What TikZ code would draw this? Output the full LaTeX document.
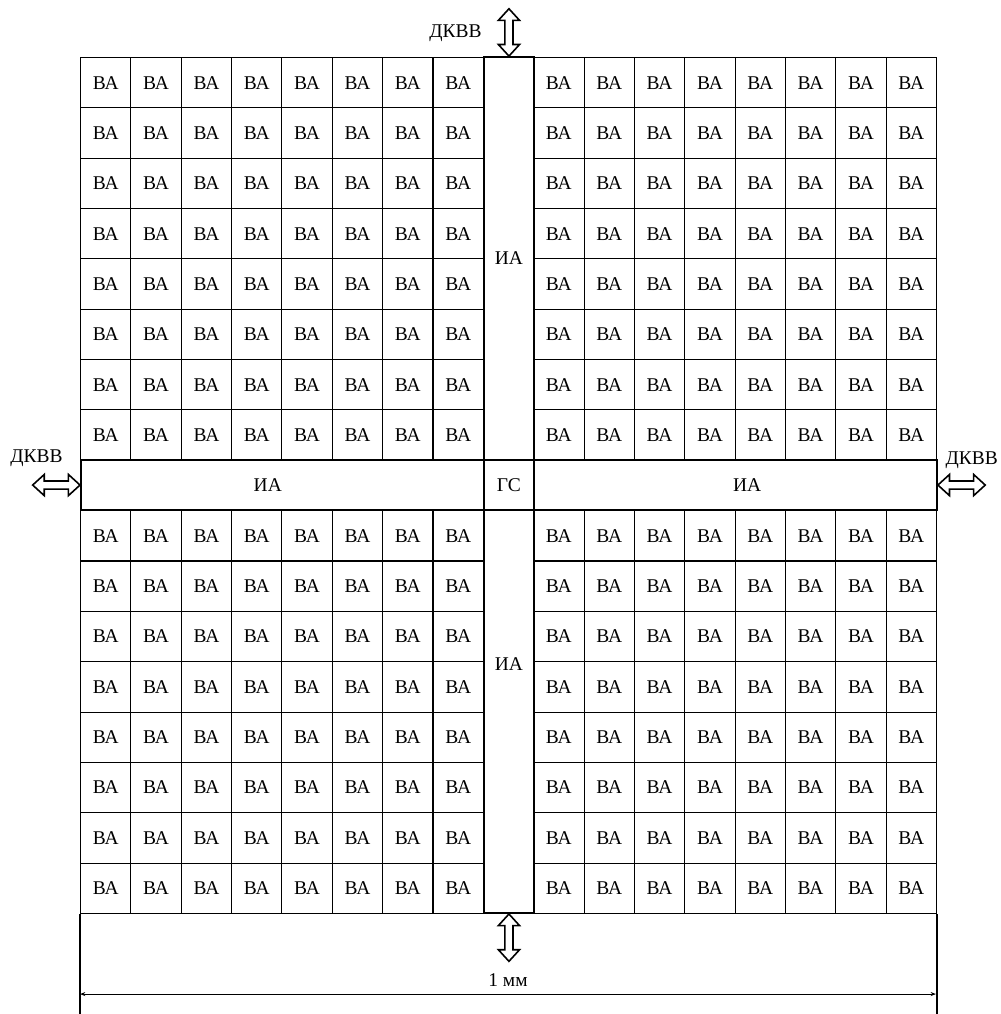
\documentclass[tikz,border=0pt]{standalone}
\usepackage{fontspec}
\setmainfont{Liberation Serif}
\usetikzlibrary{positioning, arrows.meta}

\begin{document}
\begin{tikzpicture}[
  every node/.style={font=\fontsize{11}{13}\selectfont},
  cell/.style={draw, line width=0.6pt, minimum size=1cm, inner sep=0pt, anchor=south west},
  iabox/.style={draw, line width=1.1pt, inner sep=0pt, anchor=south west},
  dkvv/.pic={\draw[line width=0.9pt, fill=white, line join=miter]
    (0,0) -- (0.23,0.21) -- (0.23,0.08) -- (0.71,0.08) -- (0.71,0.21) -- (0.94,0)
    -- (0.71,-0.21) -- (0.71,-0.08) -- (0.23,-0.08) -- (0.23,-0.21) -- cycle;},
  >=Stealth,
]
  \useasboundingbox (-1.589,-1.986) rectangle (18.29,18.153);

  % VA cells, four blocks of 8x8
  \foreach \i in {0,...,7,9,10,...,16} {
    \foreach \j in {0,...,7,9,10,...,16} {
      \node[cell] (c-\i-\j) at (\i,\j) {ВА};
    }
  }

  % IA channels and the central node
  \node[iabox, minimum width=1cm, minimum height=8cm] (iaN) at (8,9) {ИА};
  \node[iabox, minimum width=1cm, minimum height=8cm] (iaS) at (8,0) {};
  \node[iabox, minimum width=8cm, minimum height=1cm] (iaW) at (0,8) {};
  \node[iabox, minimum width=8cm, minimum height=1cm] (iaE) at (9,8) {};
  \node[iabox, minimum size=1cm] (gs) at (8,8) {ГС};
  \node at ([yshift=0.95cm]iaS.center) {ИА};
  \node at ([xshift=-0.29cm]iaW.center) {ИА};
  \node at ([xshift=0.23cm]iaE.center) {ИА};

  % external ports
  \pic[rotate=90] at (iaN.north) {dkvv};
  \pic[rotate=-90] at (iaS.south) {dkvv};
  \pic[rotate=180] at (iaW.west) {dkvv};
  \pic at (iaE.east) {dkvv};
  \node[anchor=east] (dkN) at (8.10,17.50) {ДКВВ};
  \node (dkW) at (-0.864,9.06) {ДКВВ};
  \node (dkE) at (17.71,9.02) {ДКВВ};

  % size of the die
  \draw[line width=0.6pt] (c-0-0.south west) -- ++(0,-1.986) coordinate (extL);
  \draw[line width=0.6pt] (c-16-0.south east) -- ++(0,-1.986) coordinate (extR);
  \coordinate (dimL) at (0,-1.59);
  \coordinate (dimR) at (17,-1.59);
  \draw[line width=0.6pt, {Stealth[length=3pt]}-{Stealth[length=3pt]}] (dimL) -- (dimR);
  \node (size) at (8.5,-1.31) {1 мм};
\end{tikzpicture}
\end{document}
